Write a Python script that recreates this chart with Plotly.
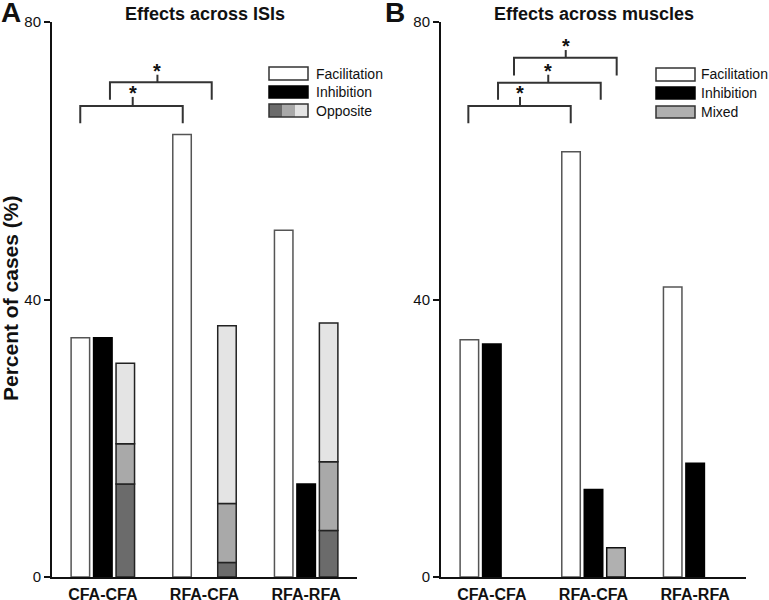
import plotly.graph_objects as go

# ---------------- data ----------------
groups = ["CFA-CFA", "RFA-CFA", "RFA-RFA"]

# Panel A: Effects across ISIs
a_facilitation = [34.5, 63.8, 50.0]
a_inhibition = [34.5, 0.0, 13.4]
a_opp_dark = [13.4, 2.1, 6.7]
a_opp_mid = [5.8, 8.5, 9.9]
a_opp_light = [11.6, 25.6, 20.0]

# Panel B: Effects across muscles
b_facilitation = [34.2, 61.3, 41.8]
b_inhibition = [33.6, 12.6, 16.4]
b_mixed = [0.0, 4.2, 0.0]

y_ticks = [0, 40, 80]

# significance brackets: (left x, right x, mid x, bar y, leg bottom y, tick top y)
a_brackets = [(-0.222, 0.786, 0.294, 67.9, 65.4, 69.2),
              (0.07, 1.071, 0.537, 71.3, 68.8, 72.4)]
b_brackets = [(-0.231, 0.776, 0.277, 67.9, 65.4, 69.2),
              (0.061, 1.071, 0.555, 71.25, 68.8, 72.4),
              (0.218, 1.228, 0.727, 74.85, 72.3, 75.96)]

# ---------------- style ----------------
W, H = 769, 600
FONT = "Liberation Sans, Arial, Helvetica, sans-serif"
BW = 0.182
STEP = 0.221
C_DARK, C_MID, C_LIGHT = "#6b6b6b", "#a9a9a9", "#e4e4e4"
C_MIX = "#b0b0b0"

def px(x):
    return x / W

def py(y):
    return 1 - y / H

fig = go.Figure()

def add_bar(xaxis, yaxis, vals, pos, color, lcolor, base=None):
    lw = [1.5 if v > 0 else 0 for v in vals]
    fig.add_trace(go.Bar(
        x=groups, y=vals, base=base, width=BW, offset=pos * STEP - BW / 2,
        marker=dict(color=color, line=dict(color=lcolor, width=lw)),
        xaxis=xaxis, yaxis=yaxis, showlegend=False, hoverinfo="y"))

# Panel A
add_bar("x", "y", a_facilitation, -1, "white", "#555555")
add_bar("x", "y", a_inhibition, 0, "black", "black")
base_mid = [d for d in a_opp_dark]
base_light = [d + m for d, m in zip(a_opp_dark, a_opp_mid)]
add_bar("x", "y", a_opp_dark, 1, C_DARK, "#222222")
add_bar("x", "y", a_opp_mid, 1, C_MID, "#222222", base=base_mid)
add_bar("x", "y", a_opp_light, 1, C_LIGHT, "#222222", base=base_light)

# Panel B
add_bar("x2", "y2", b_facilitation, -1, "white", "#555555")
add_bar("x2", "y2", b_inhibition, 0, "black", "black")
add_bar("x2", "y2", b_mixed, 1, C_MIX, "#111111")

shapes = []
annotations = []

def brackets(xref, yref, lst):
    for (l, r, m, yb, yl, yt) in lst:
        line = dict(color="#333333", width=2)
        shapes.append(dict(type="path", xref=xref, yref=yref,
                           path=f"M {l},{yl} L {l},{yb} L {r},{yb} L {r},{yl}",
                           line=line))
        shapes.append(dict(type="line", xref=xref, yref=yref,
                           x0=m, x1=m, y0=yb, y1=yt, line=line))
        annotations.append(dict(xref=xref, yref=yref, x=m, y=yt, text="<b>*</b>",
                                showarrow=False, xanchor="center", yanchor="bottom", yshift=-9,
                                font=dict(size=20, color="#111111", family=FONT)))

brackets("x", "y", a_brackets)
brackets("x2", "y2", b_brackets)

# custom legends
def legend(x0, x1, rows, labels, fills, tx):
    for (ya, yb), lab, fill in zip(rows, labels, fills):
        if isinstance(fill, list):
            n = len(fill)
            w = (x1 - x0) / n
            for i, c in enumerate(fill):
                shapes.append(dict(type="rect", xref="paper", yref="paper",
                                   x0=px(x0 + i * w), x1=px(x0 + (i + 1) * w),
                                   y0=py(yb), y1=py(ya), fillcolor=c,
                                   line=dict(width=0)))
            shapes.append(dict(type="rect", xref="paper", yref="paper",
                               x0=px(x0), x1=px(x1), y0=py(yb), y1=py(ya),
                               line=dict(color="#333333", width=1.5)))
        else:
            lc = "#333333" if fill != "black" else "black"
            shapes.append(dict(type="rect", xref="paper", yref="paper",
                               x0=px(x0), x1=px(x1), y0=py(yb), y1=py(ya),
                               fillcolor=fill, line=dict(color=lc, width=1.5)))
        annotations.append(dict(xref="paper", yref="paper", x=px(tx), y=py((ya + yb) / 2),
                                text=lab, showarrow=False, xanchor="left", yanchor="middle",
                                font=dict(size=14, color="#111111", family=FONT)))

legend(269, 308, [(67, 80), (86, 98), (104, 117)],
       ["Facilitation", "Inhibition", "Opposite"],
       ["white", "black", [C_DARK, C_MID, C_LIGHT]], 314)
legend(656, 695, [(68, 81), (87, 99), (106, 118)],
       ["Facilitation", "Inhibition", "Mixed"],
       ["white", "black", C_MIX], 699)

# titles, panel letters, y title
def note(x, y, text, size, angle=0, xanchor="center"):
    annotations.append(dict(xref="paper", yref="paper", x=px(x), y=py(y), text=text,
                            textangle=angle, showarrow=False, xanchor=xanchor,
                            yanchor="middle",
                            font=dict(size=size, color="#111111", family=FONT)))

note(205, 14, "<b>Effects across ISIs</b>", 18)
note(594, 14, "<b>Effects across muscles</b>", 18)
note(-1, 12, "<b>A</b>", 28, xanchor="left")
note(383, 12, "<b>B</b>", 28, xanchor="left")
note(10, 299, "<b>Percent of cases (%)</b>", 21, angle=-90)

xa = dict(range=[-0.5, 2.5], showline=True, linecolor="#111111", linewidth=2,
          ticks="", showgrid=False, zeroline=False, fixedrange=True, automargin=False,
          ticklabelstandoff=2,
          tickfont=dict(size=16, color="#111111", family=FONT),
          tickprefix="<b>", ticksuffix="</b>")
ya = dict(range=[0, 80], tickvals=y_ticks, showline=True, linecolor="#111111", linewidth=2,
          ticks="outside", ticklen=6, tickwidth=1.5, tickcolor="#111111",
          showgrid=False, zeroline=False, automargin=False, fixedrange=True,
          tickfont=dict(size=15, color="#111111", family=FONT))

fig.update_layout(
    width=W, height=H, margin=dict(l=0, r=0, t=0, b=0),
    paper_bgcolor="white", plot_bgcolor="white", barmode="overlay",
    showlegend=False,
    xaxis=dict(xa, domain=[px(52), px(357)], anchor="y"),
    yaxis=dict(ya, domain=[py(577), py(22)], anchor="x"),
    xaxis2=dict(xa, domain=[px(441), px(746)], anchor="y2"),
    yaxis2=dict(ya, domain=[py(577), py(22)], anchor="x2"),
    shapes=shapes, annotations=annotations,
)

fig.write_html("out.html", config={"displayModeBar": False},
               post_script="document.body.style.margin='0';"
                           "document.body.style.overflow='hidden';")
